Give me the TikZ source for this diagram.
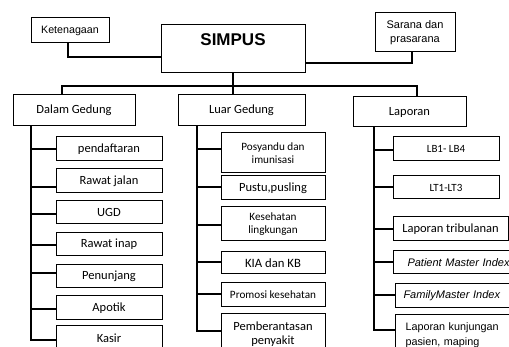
\documentclass[tikz,border=0pt]{standalone}
\usepackage{fontspec}
\setmainfont{Carlito}
\newfontfamily\arialf{Liberation Sans}
\begin{document}
\begin{tikzpicture}[x=1pt,y=-1pt,
  box/.style={draw, line width=1pt, inner sep=0pt, align=center, font=\fontsize{12.5}{14}\selectfont},
  abox/.style={box, font=\arialf\fontsize{11}{14}\selectfont},
  small/.style={font=\fontsize{11.2}{13.5}\selectfont},
  con/.style={line width=1.9pt}]
\useasboundingbox (0,0) rectangle (509,347);
\clip (0,0) rectangle (509,347);
% top level
\node[abox, font=\arialf\fontsize{10.7}{13}\selectfont, minimum width=78pt, minimum height=25pt] (ket) at (70,30.5) {Ketenagaan};
\node[box, minimum width=144pt, minimum height=48pt,
  label={[anchor=center, yshift=-15pt, font=\arialf\bfseries\fontsize{17}{20}\selectfont]north:SIMPUS}] (simpus) at (233,49) {};
\node[abox, minimum width=80pt, minimum height=39pt] (sar) at (415,32.5) {Sarana dan\\prasarana};
\draw[con] (ket.south -| 68,0) -- (68,57) -- (simpus.west |- 0,57);
\draw[con] (simpus.east |- 0,63) -- (412,63) -- (sar.south -| 412,0);
% second level
\node[box, minimum width=122pt, minimum height=31pt] (dalam) at (74,110.5) {Dalam Gedung};
\node[box, minimum width=127pt, minimum height=31pt] (luar) at (241.5,110.5) {Luar Gedung};
\node[box, minimum width=113pt, minimum height=30pt] (lap) at (409.5,112) {Laporan};
\coordinate (busL) at (62,86);
\coordinate (busR) at (417,86);
\draw[con] (busL |- dalam.north) -- (busL) -- (busR) -- (busR |- lap.north);
\draw[con] (simpus.south) -- (simpus.south |- luar.north);
% Dalam Gedung
\node[box, minimum width=106pt, minimum height=24pt] (pend) at (109,149) {pendaftaran};
\node[box, minimum width=106pt, minimum height=24pt] (rj) at (109,181) {Rawat jalan};
\node[box, minimum width=106pt, minimum height=23pt] (ugd) at (109,212.5) {UGD};
\node[box, minimum width=106pt, minimum height=23pt] (ri) at (109,244.5) {Rawat inap};
\node[box, minimum width=106pt, minimum height=23pt] (pen) at (109,276.5) {Penunjang};
\node[box, minimum width=106pt, minimum height=24pt] (apo) at (109,308) {Apotik};
\node[box, minimum width=106pt, minimum height=24pt] (kas) at (109,338) {Kasir};
\coordinate (sd) at (31,0);
\draw[con] (sd |- dalam.south) -- (sd |- 0,340) -- (kas.west |- 0,340);
\foreach \n/\yy in {pend/149, rj/187, ugd/214, ri/245, pen/273, apo/309}
  \draw[con] (sd |- 0,\yy) -- (\n.west |- 0,\yy);
% Luar Gedung
\node[box, small, minimum width=104pt, minimum height=40pt] (pos) at (273,153) {Posyandu dan\\imunisasi};
\node[box, minimum width=104pt, minimum height=24pt] (pus) at (273,188) {Pustu,pusling};
\node[box, small, minimum width=104pt, minimum height=34pt] (kes) at (273,224) {Kesehatan\\lingkungan};
\node[box, font=\fontsize{12.7}{15}\selectfont, minimum width=104pt, minimum height=22pt] (kia) at (273,263) {KIA dan KB};
\node[box, small, minimum width=104pt, minimum height=24pt] (pro) at (273,295) {Promosi kesehatan};
\node[box, minimum width=104pt, minimum height=40pt] (pem) at (273,334) {Pemberantasan\\penyakit};
\coordinate (sl) at (197,0);
\draw[con] (sl |- luar.south) -- (sl |- 0,331) -- (pem.west |- 0,331);
\foreach \n/\yy in {pos/149, pus/187, kes/225, kia/262, pro/294}
  \draw[con] (sl |- 0,\yy) -- (\n.west |- 0,\yy);
% Laporan
\node[box, font=\fontsize{11}{13}\selectfont, minimum width=106pt, minimum height=24pt] (lb) at (446,149) {LB1- LB4};
\node[box, font=\fontsize{11}{13}\selectfont, minimum width=106pt, minimum height=23pt] (lt) at (446,187.5) {LT1-LT3};
\node[box, minimum width=115pt, minimum height=24pt] (trib) at (450.5,229) {Laporan tribulanan};
\node[abox, anchor=west, inner xsep=14pt, text width=112pt, align=left, minimum height=23pt, font=\arialf\itshape\fontsize{11}{13}\selectfont] (pmi) at (393,262.5) {Patient Master Index};
\node[abox, anchor=west, inner xsep=8pt, text width=115pt, align=left, minimum height=24pt, font=\arialf\itshape\fontsize{11}{13}\selectfont] (fmi) at (395,296) {FamilyMaster Index};
\node[abox, anchor=west, inner xsep=10pt, text width=112pt, align=left, minimum height=40pt, font=\arialf\fontsize{10.8}{14.5}\selectfont] (kun) at (395,335) {Laporan kunjungan\\pasien, maping};
\coordinate (sr) at (374,0);
\draw[con] (sr |- lap.south) -- (sr |- 0,330) -- (kun.west |- 0,330);
\foreach \n/\yy in {lb/150, lt/187, trib/229, pmi/262, fmi/295}
  \draw[con] (sr |- 0,\yy) -- (\n.west |- 0,\yy);
\end{tikzpicture}
\end{document}
